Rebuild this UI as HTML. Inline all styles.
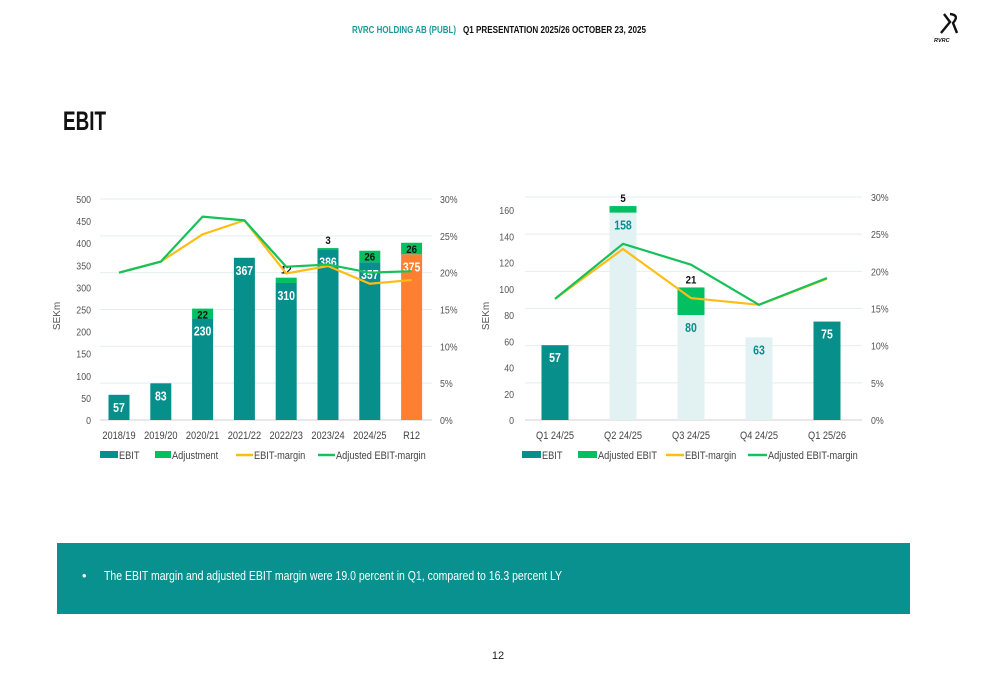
<!DOCTYPE html>
<html><head><meta charset="utf-8"><style>
html,body{margin:0;padding:0;background:#fff;}
svg{display:block;font-family:"Liberation Sans",sans-serif;}
</style></head><body>
<svg id="s" width="1000" height="685" viewBox="0 0 1000 685" xmlns="http://www.w3.org/2000/svg">
<text x="352" y="33" font-size="10" font-weight="bold" fill="#1a9a98" textLength="104" lengthAdjust="spacingAndGlyphs">RVRC HOLDING AB (PUBL)</text>
<text x="463" y="33" font-size="10" font-weight="bold" fill="#111" textLength="183" lengthAdjust="spacingAndGlyphs">Q1 PRESENTATION 2025/26  OCTOBER 23, 2025</text>
<g stroke="#111" fill="none" stroke-width="2.4">
<path d="M944 14 L950 22 L941 33 M950 14 Q960 15 953 23 L957 33"/>
<text x="934" y="42" font-size="5.5" font-weight="bold" fill="#111" stroke="none" font-style="italic">RVRC</text>
</g>
<text x="63" y="130" font-size="27" font-weight="bold" fill="#111" textLength="43" lengthAdjust="spacingAndGlyphs">EBIT</text>
<g id="c1"></g>
<g id="c2"></g>
<rect x="57" y="543" width="853" height="71" fill="#08918f"/>
<text x="82" y="580" font-size="13" fill="#fff">•</text>
<text x="104" y="580" font-size="13" fill="#fff" textLength="458" lengthAdjust="spacingAndGlyphs">The EBIT margin and adjusted EBIT margin were 19.0 percent in Q1, compared to 16.3 percent LY</text>
<text x="498" y="659" font-size="11" fill="#222" text-anchor="middle">12</text>
</svg>
<script>
// Chart 1 data
const cats1 = ["2018/19","2019/20","2020/21","2021/22","2022/23","2023/24","2024/25","R12"];
const ebit1 = [57,83,230,367,310,386,357,375];
const adj1 = [0,0,22,0,12,3,26,26];
const margin1 = [20.0,21.5,25.2,27.1,19.9,20.9,18.5,19.0];
const adjMargin1 = [20.0,21.5,27.6,27.1,20.8,21.1,20.0,20.2];
const leftTicks1 = [0,50,100,150,200,250,300,350,400,450,500];
const rightTicks1 = [0,5,10,15,20,25,30];
// Chart 2 data
const cats2 = ["Q1 24/25","Q2 24/25","Q3 24/25","Q4 24/25","Q1 25/26"];
const ebit2 = [57,158,80,63,75];
const adj2 = [0,5,21,0,0];
const margin2 = [16.3,23.0,16.4,15.5,19.0];
const adjMargin2 = [16.3,23.7,20.9,15.5,19.1];
const leftTicks2 = [0,20,40,60,80,100,120,140,160];
const rightTicks2 = [0,5,10,15,20,25,30];

const NS="http://www.w3.org/2000/svg";
function mk(parent,tag,attrs,txt){const e=document.createElementNS(NS,tag);for(const k in attrs)e.setAttribute(k,attrs[k]);if(txt!==undefined)e.textContent=txt;parent.appendChild(e);return e;}
// narrow text: draw with horizontal compression
function ntext(g,x,y,str,attrs){
  const a=Object.assign({},attrs,{x:0,y:0,transform:`translate(${x},${y}) scale(0.84,1)`});
  return mk(g,'text',a,str);
}

function draw(g,o){
  const yL=v=>o.y0-(v/o.lmax)*(o.y0-o.ytopL);
  const yR=v=>o.y0-(v/30)*(o.y0-o.ytopR);
  const xC=i=>o.x0+i*o.step;
  o.rightTicks.forEach(t=>{
    const y=yR(t);
    const gl=mk(g,'line',{x1:o.gx1,x2:o.gx2,y1:y,y2:y,stroke:t===0?'#d0d0d0':'#e4eef0','stroke-width':1});
    
    
    const tl=ntext(g,o.rx,y+4,t+'%',{'font-size':10.5,fill:'#555'});
    
    
  });
  o.leftTicks.forEach(t=>{
    const tl=ntext(g,o.lx,yL(t)+4,t,{'font-size':10.5,fill:'#555','text-anchor':'end'});
    
    
  });
  const at=mk(g,'text',{x:0,y:0,'font-size':10,fill:'#555','text-anchor':'middle',transform:`translate(${o.ax},${o.ay}) rotate(-90)`},'SEKm');
  
  
  o.cats.forEach((c,i)=>{
    const cx=xC(i), w=o.bw;
    const col=o.colors[i];
    const yt=yL(o.ebit[i]);
    const b=mk(g,'rect',{x:cx-w/2,y:yt,width:w,height:o.y0-yt,fill:col});
    
    
    const lb=ntext(g,cx,yt+17,o.ebit[i],{'font-size':12.5,'font-weight':'bold',fill:o.labelColors[i],'text-anchor':'middle'});
    
    
    if(o.adj[i]>0){
      const ya=yL(o.ebit[i]+o.adj[i]);
      const ab=mk(g,'rect',{x:cx-w/2,y:ya,width:w,height:yt-ya,fill:'#00c062'});
      
      
      const inside=!o.labelsAbove && (yt-ya)>8;
      const al=ntext(g,cx,inside?ya+10:ya-4,o.adj[i],{'font-size':11.5,'font-weight':'bold',fill:'#111','text-anchor':'middle'});
      
      
    }
    const xl=ntext(g,cx,o.y0+19,c,{'font-size':11,fill:'#444','text-anchor':'middle'});
    
    
  });
  const pts=a=>a.map((v,i)=>xC(i)+','+yR(v)).join(' ');
  const l1=mk(g,'polyline',{points:pts(o.margin),fill:'none',stroke:'#fdbd14','stroke-width':2.2});
  
  
  const l2=mk(g,'polyline',{points:pts(o.adjMargin),fill:'none',stroke:'#16c15a','stroke-width':2.2});
  
  
  const ly=o.y0+35;
  o.legend.forEach(L=>{
    let m;
    if(L.type==='box') m=mk(g,'rect',{x:L.x,y:ly-4,width:L.w,height:7,fill:L.c});
    else m=mk(g,'line',{x1:L.x,x2:L.x+L.w,y1:ly,y2:ly,stroke:L.c,'stroke-width':2.5});
    
    
    const t=ntext(g,L.x+L.w+1,ly+4,L.t,{'font-size':11,fill:'#444'});
    
    
  });
}
const T='#078f8c', O='#fd7f32', LT='#e2f1f1';
draw(document.getElementById('c1'),{cats:cats1,ebit:ebit1,adj:adj1,margin:margin1,adjMargin:adjMargin1,leftTicks:leftTicks1,rightTicks:rightTicks1,
  y0:420,ytopL:199,ytopR:199,lmax:500,x0:119,step:41.8,bw:21,gx1:100,gx2:432,lx:91,rx:440,ax:60,ay:316,labelsAbove:false,
  colors:[T,T,T,T,T,T,T,O],labelColors:['#fff','#fff','#fff','#fff','#fff','#fff','#fff','#fff'],
  legend:[{type:'box',x:100,w:18,c:T,t:'EBIT'},{type:'box',x:155,w:16,c:'#00c062',t:'Adjustment'},{type:'line',x:236,w:17,c:'#fdbd14',t:'EBIT-margin'},{type:'line',x:318,w:17,c:'#16c15a',t:'Adjusted EBIT-margin'}]});
draw(document.getElementById('c2'),{cats:cats2,ebit:ebit2,adj:adj2,margin:margin2,adjMargin:adjMargin2,leftTicks:leftTicks2,rightTicks:rightTicks2,
  y0:420,ytopL:210,ytopR:197,lmax:160,x0:555,step:68,bw:27,gx1:525,gx2:862,lx:514,rx:871,ax:489,ay:316,labelsAbove:true,
  colors:[T,LT,LT,LT,T],labelColors:['#fff',T,T,T,'#fff'],
  legend:[{type:'box',x:522,w:19,c:T,t:'EBIT'},{type:'box',x:578,w:19,c:'#00c062',t:'Adjusted EBIT'},{type:'line',x:666,w:18,c:'#fdbd14',t:'EBIT-margin'},{type:'line',x:748,w:19,c:'#16c15a',t:'Adjusted EBIT-margin'}]});
</script>
</body></html>
